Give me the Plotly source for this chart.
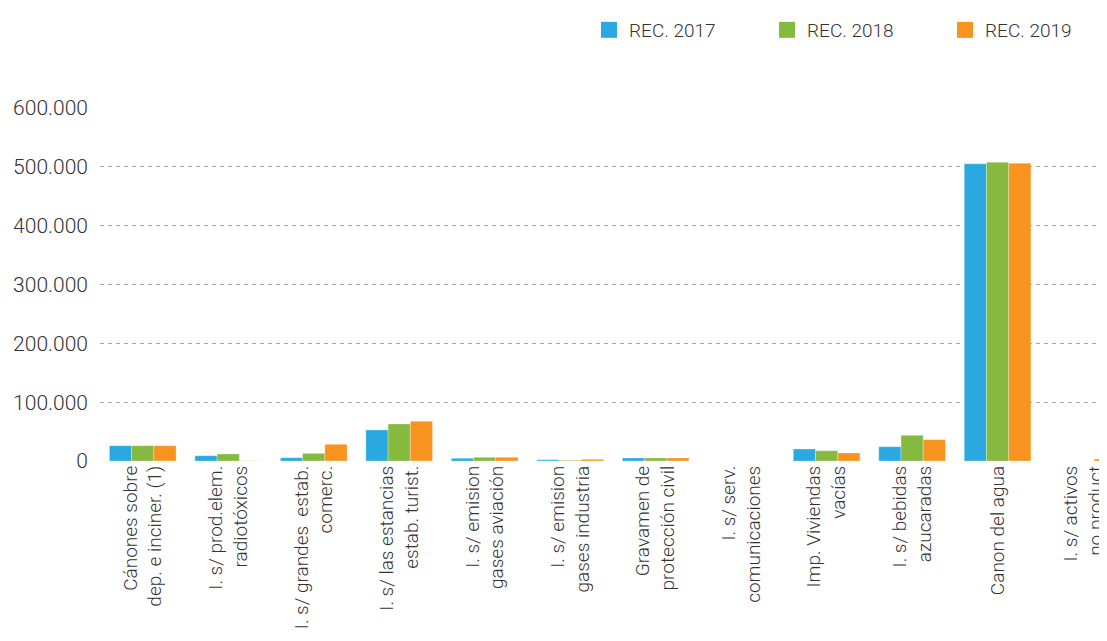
import plotly.graph_objects as go

categories = [
    "Cánones sobre<br>dep. e inciner. (1)",
    "I. s/ prod.elem.<br>radiotóxicos",
    "I. s/ grandes  estab.<br>comerc.",
    "I. s/ las estancias<br>estab. turist.",
    "I. s/ emision<br>gases aviación",
    "I. s/ emision<br>gases industria",
    "Gravamen de<br>protección civil",
    "I. s/ serv.<br>comunicaciones",
    "Imp. Viviendas<br>vacías",
    "I. s/ bebidas<br>azucaradas",
    "Canon del agua",
    "I. s/ activos<br>no product",
]

rec_2017 = [26000, 9000, 5600, 52700, 4600, 2200, 5100, 0, 20400, 24300, 505100, 0]
rec_2018 = [26000, 12000, 13000, 63000, 6300, 1200, 5100, 0, 17500, 43700, 508000, 0]
rec_2019 = [26000, 300, 28400, 67500, 6300, 2900, 5100, 0, 13600, 36200, 506300, 3400]

series_names = ["REC. 2017", "REC. 2018", "REC. 2019"]
colors = ["#29A9E0", "#86B940", "#F7931E"]

FONT = "Roboto"
TXT = "#333333"
fig = go.Figure()
for name, vals, col in zip(series_names, [rec_2017, rec_2018, rec_2019], colors):
    fig.add_trace(go.Bar(
        x=list(range(len(categories))), y=vals, name=name,
        legendgroup=name, showlegend=False,
        marker=dict(color=col, line=dict(color="rgba(255,255,255,0.6)", width=0.5)),
    ))
# legend entries with larger square swatches
for name, col in zip(series_names, colors):
    fig.add_trace(go.Scatter(
        x=[None], y=[None], mode="markers", name=name, legendgroup=name,
        marker=dict(symbol="square", size=16, color=col, line=dict(width=0)),
        hoverinfo="skip",
    ))

# page body has an 8px margin, so the figure is sized/placed to compensate
fig.update_layout(
    width=1099, height=625,
    margin=dict(l=92, r=0, t=100, b=172, autoexpand=False),
    paper_bgcolor="white", plot_bgcolor="white",
    barmode="group", bargap=0.22, bargroupgap=0,
    separators=",.",
    font=dict(family=FONT, size=19, color=TXT, weight=300),
    legend=dict(
        orientation="h", x=0.4856, xanchor="left", y=1.221, yanchor="middle",
        entrywidth=133, entrywidthmode="pixels", itemsizing="trace",
        font=dict(family=FONT, size=19, color=TXT, weight=300),
    ),
    xaxis=dict(
        tickmode="array", tickvals=list(range(len(categories))), ticktext=categories,
        tickangle=-90, range=[-0.5, 11.28], showgrid=False, showline=False,
        zeroline=False, ticks="", automargin=False, ticklabeloverflow="allow",
        tickfont=dict(family=FONT, size=19, color=TXT, weight=300),
    ),
    yaxis=dict(
        range=[0, 600000], tickvals=[0, 100000, 200000, 300000, 400000, 500000, 600000],
        tickformat=",d", showgrid=True, gridcolor="#A6A6A6", griddash="4px,4px",
        gridwidth=1, zeroline=False, showline=False, ticks="", automargin=False,
        ticklabelstandoff=11,
        tickfont=dict(family=FONT, size=21, color=TXT, weight=300),
    ),
)

fig.write_html("out.html")
